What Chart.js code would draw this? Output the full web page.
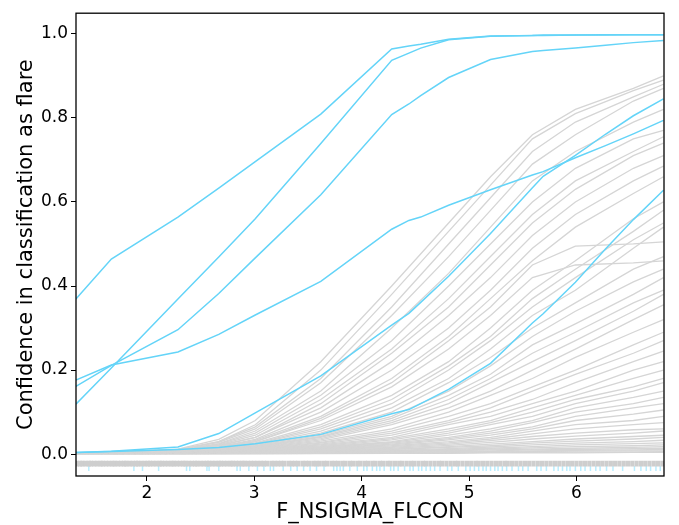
<!DOCTYPE html>
<html>
<head>
<meta charset="utf-8">
<script src="https://cdn.jsdelivr.net/npm/chart.js@4.4.1/dist/chart.umd.min.js"></script>
<style>
  html, body { margin: 0; padding: 0; background: #fff; }
  #wrap { width: 679px; height: 525px; }
</style>
</head>
<body>
<div id="wrap"><canvas id="iceChart" width="679" height="525"></canvas></div>
<script>
// x grid (F_NSIGMA_FLCON) used by the highlighted (flare) curves
const xBlue = [1.34, 1.67, 2.29, 2.67, 3.01, 3.62, 4.28, 4.44, 4.55, 4.81, 5.2, 5.59, 5.69, 5.99, 6.27, 6.53, 6.81];

// flare samples (blue)
const blueA = [0.369, 0.464, 0.564, 0.633, 0.696, 0.809, 0.964, 0.971, 0.975, 0.987, 0.995, 0.996, 0.997, 0.997, 0.998, 0.998, 0.998];
const blueB = [0.119, 0.205, 0.369, 0.469, 0.560, 0.739, 0.937, 0.954, 0.966, 0.986, 0.994, 0.996, 0.996, 0.997, 0.997, 0.998, 0.998];
const blueC = [0.161, 0.211, 0.296, 0.382, 0.467, 0.617, 0.808, 0.833, 0.853, 0.896, 0.939, 0.958, 0.960, 0.966, 0.973, 0.979, 0.984];
const blueD = [0.176, 0.212, 0.243, 0.285, 0.331, 0.411, 0.535, 0.556, 0.564, 0.592, 0.629, 0.664, 0.672, 0.705, 0.734, 0.762, 0.794];
const blueE = [0.004, 0.007, 0.017, 0.049, 0.098, 0.186, 0.307, 0.335, 0.361, 0.423, 0.525, 0.634, 0.661, 0.711, 0.761, 0.805, 0.845];
const blueF = [0.004, 0.006, 0.011, 0.016, 0.025, 0.047, 0.096, 0.106, 0.120, 0.154, 0.216, 0.312, 0.334, 0.409, 0.488, 0.558, 0.628];

// x grid for the non-flare curves (grey)
const xGray = [1.34, 1.67, 2.29, 2.67, 3.01, 3.62, 4.28, 4.81, 5.2, 5.59, 5.99, 6.53, 6.81];

const grayLines = [
  [0.003, 0.004, 0.012, 0.035, 0.08, 0.22, 0.40, 0.55, 0.66, 0.76, 0.82, 0.87, 0.90],
  [0.003, 0.004, 0.011, 0.03, 0.07, 0.20, 0.38, 0.53, 0.64, 0.75, 0.81, 0.865, 0.89],
  [0.003, 0.004, 0.010, 0.03, 0.065, 0.18, 0.35, 0.50, 0.61, 0.72, 0.79, 0.85, 0.88],
  [0.003, 0.004, 0.010, 0.028, 0.06, 0.17, 0.33, 0.47, 0.58, 0.69, 0.76, 0.84, 0.87],
  [0.003, 0.004, 0.009, 0.025, 0.055, 0.15, 0.30, 0.43, 0.54, 0.65, 0.72, 0.79, 0.82],
  [0.002, 0.004, 0.009, 0.024, 0.05, 0.14, 0.27, 0.40, 0.50, 0.60, 0.68, 0.75, 0.77],
  [0.002, 0.004, 0.009, 0.022, 0.045, 0.13, 0.25, 0.37, 0.47, 0.57, 0.65, 0.72, 0.755],
  [0.002, 0.003, 0.008, 0.02, 0.04, 0.12, 0.24, 0.35, 0.45, 0.55, 0.63, 0.71, 0.74],
  [0.002, 0.003, 0.008, 0.02, 0.04, 0.11, 0.22, 0.33, 0.42, 0.52, 0.60, 0.68, 0.71],
  [0.002, 0.003, 0.008, 0.018, 0.035, 0.10, 0.20, 0.30, 0.39, 0.49, 0.57, 0.65, 0.685],
  [0.002, 0.003, 0.007, 0.017, 0.033, 0.09, 0.18, 0.28, 0.37, 0.46, 0.54, 0.62, 0.66],
  [0.002, 0.003, 0.007, 0.016, 0.03, 0.085, 0.17, 0.27, 0.35, 0.45, 0.495, 0.50, 0.505],
  [0.002, 0.003, 0.007, 0.016, 0.03, 0.08, 0.16, 0.25, 0.33, 0.42, 0.45, 0.455, 0.46],
  [0.002, 0.003, 0.006, 0.014, 0.027, 0.07, 0.14, 0.22, 0.30, 0.39, 0.46, 0.56, 0.60],
  [0.002, 0.003, 0.006, 0.013, 0.025, 0.065, 0.13, 0.21, 0.28, 0.37, 0.44, 0.53, 0.58],
  [0.002, 0.003, 0.006, 0.013, 0.024, 0.06, 0.12, 0.20, 0.27, 0.35, 0.42, 0.51, 0.55],
  [0.002, 0.003, 0.006, 0.012, 0.022, 0.055, 0.11, 0.18, 0.25, 0.33, 0.39, 0.49, 0.54],
  [0.002, 0.003, 0.006, 0.012, 0.02, 0.05, 0.10, 0.17, 0.23, 0.30, 0.36, 0.44, 0.47],
  [0.002, 0.003, 0.005, 0.011, 0.019, 0.045, 0.09, 0.15, 0.21, 0.28, 0.34, 0.41, 0.44],
  [0.002, 0.003, 0.005, 0.011, 0.018, 0.042, 0.085, 0.14, 0.19, 0.26, 0.31, 0.38, 0.42],
  [0.002, 0.003, 0.005, 0.010, 0.017, 0.04, 0.08, 0.13, 0.18, 0.24, 0.29, 0.36, 0.39],
  [0.002, 0.003, 0.005, 0.010, 0.016, 0.037, 0.075, 0.12, 0.17, 0.22, 0.27, 0.34, 0.38],
  [0.002, 0.003, 0.005, 0.009, 0.015, 0.034, 0.07, 0.11, 0.15, 0.20, 0.25, 0.32, 0.355],
  [0.002, 0.003, 0.005, 0.009, 0.014, 0.031, 0.06, 0.10, 0.14, 0.18, 0.23, 0.29, 0.32],
  [0.002, 0.003, 0.005, 0.008, 0.013, 0.028, 0.055, 0.09, 0.12, 0.16, 0.20, 0.26, 0.29],
  [0.002, 0.003, 0.004, 0.008, 0.012, 0.026, 0.05, 0.08, 0.11, 0.15, 0.19, 0.24, 0.27],
  [0.002, 0.003, 0.004, 0.008, 0.011, 0.024, 0.045, 0.075, 0.10, 0.13, 0.17, 0.22, 0.245],
  [0.002, 0.003, 0.004, 0.007, 0.010, 0.022, 0.04, 0.07, 0.09, 0.12, 0.15, 0.20, 0.22],
  [0.002, 0.003, 0.004, 0.007, 0.010, 0.02, 0.037, 0.06, 0.08, 0.11, 0.14, 0.18, 0.20],
  [0.002, 0.003, 0.004, 0.007, 0.009, 0.018, 0.034, 0.055, 0.075, 0.10, 0.13, 0.16, 0.18],
  [0.002, 0.002, 0.004, 0.006, 0.009, 0.017, 0.03, 0.05, 0.07, 0.09, 0.12, 0.15, 0.17],
  [0.002, 0.002, 0.004, 0.006, 0.008, 0.016, 0.028, 0.045, 0.06, 0.08, 0.11, 0.135, 0.15],
  [0.002, 0.002, 0.004, 0.006, 0.008, 0.015, 0.026, 0.04, 0.055, 0.075, 0.10, 0.12, 0.135],
  [0.002, 0.002, 0.003, 0.005, 0.007, 0.014, 0.024, 0.037, 0.05, 0.065, 0.09, 0.11, 0.12],
  [0.002, 0.002, 0.003, 0.005, 0.007, 0.013, 0.022, 0.034, 0.045, 0.06, 0.08, 0.095, 0.105],
  [0.002, 0.002, 0.003, 0.005, 0.006, 0.012, 0.02, 0.03, 0.04, 0.055, 0.07, 0.08, 0.09],
  [0.002, 0.002, 0.003, 0.004, 0.006, 0.011, 0.018, 0.027, 0.036, 0.048, 0.06, 0.07, 0.075],
  [0.002, 0.002, 0.003, 0.004, 0.005, 0.01, 0.016, 0.024, 0.032, 0.042, 0.05, 0.058, 0.06],
  [0.001, 0.002, 0.003, 0.004, 0.005, 0.009, 0.014, 0.021, 0.028, 0.036, 0.043, 0.05, 0.055],
  [0.001, 0.002, 0.002, 0.003, 0.004, 0.008, 0.012, 0.018, 0.024, 0.03, 0.036, 0.042, 0.045],
  [0.001, 0.001, 0.002, 0.003, 0.004, 0.007, 0.011, 0.016, 0.02, 0.026, 0.031, 0.036, 0.04],
  [0.001, 0.001, 0.002, 0.003, 0.003, 0.006, 0.009, 0.013, 0.017, 0.022, 0.026, 0.03, 0.033],
  [0.001, 0.001, 0.002, 0.002, 0.003, 0.005, 0.008, 0.011, 0.014, 0.018, 0.022, 0.025, 0.027],
  [0.001, 0.001, 0.002, 0.002, 0.003, 0.004, 0.007, 0.009, 0.012, 0.015, 0.018, 0.02, 0.022],
  [0.001, 0.001, 0.001, 0.002, 0.002, 0.004, 0.006, 0.008, 0.01, 0.012, 0.014, 0.016, 0.018],
  [0.001, 0.001, 0.001, 0.002, 0.002, 0.003, 0.005, 0.006, 0.008, 0.01, 0.011, 0.013, 0.014],
  [0.001, 0.001, 0.001, 0.001, 0.002, 0.003, 0.004, 0.005, 0.006, 0.008, 0.009, 0.01, 0.011],
  [0.001, 0.001, 0.001, 0.001, 0.001, 0.002, 0.003, 0.004, 0.005, 0.006, 0.007, 0.008, 0.008],
  [0.001, 0.001, 0.001, 0.001, 0.001, 0.002, 0.002, 0.003, 0.004, 0.004, 0.005, 0.005, 0.006],
  [0.001, 0.001, 0.001, 0.001, 0.001, 0.001, 0.002, 0.002, 0.003, 0.003, 0.003, 0.004, 0.004]
];

// rug marks (sample values of the feature)
const rugGrayX = [1.35, 1.38, 1.40, 1.43, 1.46, 1.48, 1.51, 1.54, 1.57, 1.59, 1.62, 1.65, 1.68, 1.70, 1.73, 1.76, 1.79, 1.81,
  1.84, 1.87, 1.90, 1.92, 1.95, 1.98, 2.01, 2.03, 2.06, 2.09, 2.12, 2.14, 2.17, 2.20, 2.23, 2.25, 2.28, 2.31, 2.34, 2.36,
  2.39, 2.42, 2.45, 2.47, 2.50, 2.53, 2.56, 2.58, 2.61, 2.64, 2.67, 2.69, 2.72, 2.75, 2.78, 2.80, 2.83, 2.86, 2.89, 2.91,
  2.94, 2.97, 3.00, 3.03, 3.06, 3.09, 3.12, 3.16, 3.19, 3.22, 3.25, 3.28, 3.32, 3.35, 3.38, 3.41, 3.45, 3.48, 3.51, 3.55,
  3.58, 3.61, 3.65, 3.68, 3.72, 3.75, 3.78, 3.82, 3.85, 3.89, 3.92, 3.96, 3.99, 4.03, 4.06, 4.10, 4.13, 4.17, 4.20, 4.24,
  4.27, 4.31, 4.35, 4.38, 4.42, 4.46, 4.49, 4.53, 4.57, 4.60, 4.64, 4.68, 4.72, 4.75, 4.79, 4.83, 4.87, 4.90, 4.94, 4.98,
  5.02, 5.06, 5.09, 5.13, 5.17, 5.21, 5.25, 5.29, 5.33, 5.36, 5.40, 5.44, 5.48, 5.52, 5.56, 5.60, 5.64, 5.68, 5.72, 5.76,
  5.80, 5.84, 5.88, 5.92, 5.96, 6.00, 6.04, 6.08, 6.12, 6.16, 6.20, 6.24, 6.28, 6.32, 6.36, 6.40, 6.44, 6.48, 6.52, 6.56,
  6.60, 6.64, 6.68, 6.72, 6.76, 6.80];
const rugBlueX = [1.46, 1.88, 1.96, 2.11, 2.37, 2.40, 2.56, 2.58, 2.67, 2.84, 2.87, 2.95, 3.03, 3.09, 3.15, 3.18, 3.27,
  3.34, 3.40, 3.46, 3.52, 3.58, 3.65, 3.74, 3.77, 3.80, 3.83, 3.89, 3.96, 4.02, 4.05, 4.10, 4.14, 4.17, 4.21, 4.27, 4.30,
  4.34, 4.40, 4.45, 4.48, 4.53, 4.56, 4.60, 4.64, 4.68, 4.73, 4.80, 4.84, 4.90, 4.97, 5.01, 5.05, 5.09, 5.13, 5.16, 5.20,
  5.24, 5.27, 5.31, 5.35, 5.40, 5.46, 5.50, 5.55, 5.63, 5.67, 5.72, 5.79, 5.83, 5.87, 5.91, 5.94, 5.99, 6.04, 6.08, 6.13,
  6.18, 6.22, 6.28, 6.34, 6.43, 6.54, 6.60, 6.65, 6.69, 6.74, 6.78];

const xTicks = [2, 3, 4, 5, 6];
const yTicks = [0.0, 0.2, 0.4, 0.6, 0.8, 1.0];

const BLUE = 'rgb(100, 212, 248)';
const GREY = 'rgb(213, 213, 213)';
const FONT = 'DejaVu Sans';

function toPoints(xs, ys) {
  return ys.map((y, i) => ({ x: xs[i], y: y }));
}

const datasets = [];

// --- A. flare curves (drawn on top, so listed first) ---
[blueA, blueB, blueC, blueD, blueE, blueF].forEach(ys => {
  datasets.push({ type: 'line', data: toPoints(xBlue, ys), borderColor: BLUE, borderWidth: 1.5,
    pointRadius: 0, fill: false, tension: 0 });
});

// --- B. non-flare curves ---
grayLines.forEach(ys => {
  datasets.push({ type: 'line', data: toPoints(xGray, ys), borderColor: GREY, borderWidth: 1.3,
    pointRadius: 0, fill: false, tension: 0 });
});

// --- C. rug plots under the curves ---
datasets.push({ type: 'scatter', data: rugGrayX.map(x => ({ x: x, y: -0.0225 })),
  pointStyle: 'line', rotation: 90, radius: 2.8, borderColor: 'rgb(206,206,206)', borderWidth: 4.2 });
datasets.push({ type: 'scatter', data: rugBlueX.map(x => ({ x: x, y: -0.034 })),
  pointStyle: 'line', rotation: 90, radius: 2.5, borderColor: 'rgba(0,191,255,0.28)', borderWidth: 1.5 });

// box round the plot area (matplotlib spines)
const frame = {
  id: 'frame',
  afterDraw(chart) {
    const { ctx, chartArea: a } = chart;
    ctx.save();
    ctx.strokeStyle = '#000';
    ctx.lineWidth = 1.3;
    ctx.strokeRect(a.left, a.top, a.right - a.left, a.bottom - a.top);
    ctx.restore();
  }
};

new Chart(document.getElementById('iceChart'), {
  type: 'line',
  data: { datasets: datasets },
  plugins: [frame],
  options: {
    responsive: false, animation: false, devicePixelRatio: 1,
    layout: { padding: { top: 8, right: 15, left: 0, bottom: 0 } },
    plugins: { legend: { display: false }, tooltip: { enabled: false } },
    scales: {
      x: {
        type: 'linear', min: 1.341, max: 6.815,
        afterFit: s => { s.height = 49; },
        afterBuildTicks: s => { s.ticks = xTicks.map(v => ({ value: v })); },
        grid: { display: true, drawOnChartArea: false, drawTicks: true, tickLength: 5, color: '#000' },
        border: { display: false },
        ticks: { color: '#000', padding: 2, font: { family: FONT, size: 17 }, callback: v => String(v) },
        title: { display: true, text: 'F_NSIGMA_FLCON', color: '#000',
          font: { family: FONT, size: 21, lineHeight: 1.2 }, padding: { top: 0, bottom: 0 } }
      },
      y: {
        type: 'linear', min: -0.052, max: 1.049,
        afterFit: s => { s.width = 76; },
        afterBuildTicks: s => { s.ticks = yTicks.map(v => ({ value: v })); },
        grid: { display: true, drawOnChartArea: false, drawTicks: true, tickLength: 5, color: '#000' },
        border: { display: false },
        ticks: { color: '#000', padding: 3, font: { family: FONT, size: 17 }, callback: v => v.toFixed(1) },
        title: { display: true, text: 'Confidence in classification as flare', color: '#000',
          font: { family: FONT, size: 21, lineHeight: 1.2 }, padding: { top: 14, bottom: 0 } }
      }
    }
  }
});
</script>
</body>
</html>
